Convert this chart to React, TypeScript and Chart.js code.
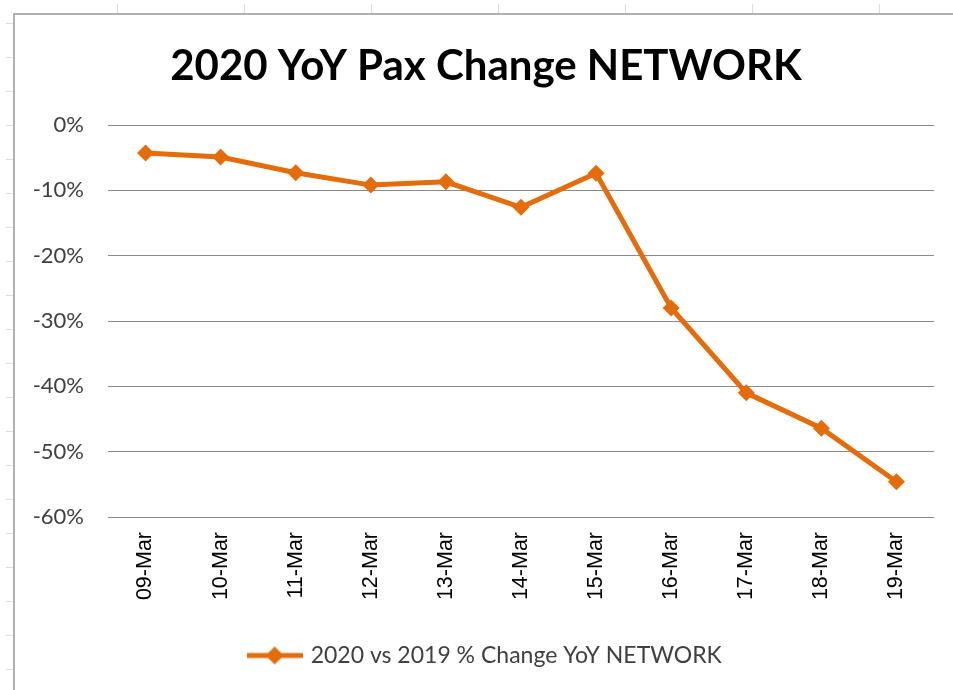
import React, { useEffect, useRef } from "react";
import { Chart, registerables } from "chart.js";

Chart.register(...registerables);

const chartTitle = "2020 YoY Pax Change NETWORK";
const seriesName = "2020 vs 2019 % Change YoY NETWORK";
const categories = [
  "09-Mar",
  "10-Mar",
  "11-Mar",
  "12-Mar",
  "13-Mar",
  "14-Mar",
  "15-Mar",
  "16-Mar",
  "17-Mar",
  "18-Mar",
  "19-Mar",
];
const yoyChange = [-4.3, -4.9, -7.3, -9.2, -8.7, -12.6, -7.4, -28.0, -41.0, -46.4, -54.6];
const yMin = -60;
const yMax = 0;
const yStep = 10;

const ORANGE = "#E46C0A";
const W = 953;
const H = 690;
const PAD_BOTTOM = 13;

export default function App() {
  const ref = useRef<HTMLCanvasElement>(null);

  useEffect(() => {
    const icon = document.createElement("canvas");
    icon.width = 56;
    icon.height = 20;
    const ic = icon.getContext("2d")!;
    ic.strokeStyle = ORANGE;
    ic.lineWidth = 5;
    ic.beginPath();
    ic.moveTo(0, 10);
    ic.lineTo(56, 10);
    ic.stroke();
    ic.fillStyle = ORANGE;
    ic.beginPath();
    ic.moveTo(28, 1);
    ic.lineTo(37, 10);
    ic.lineTo(28, 19);
    ic.lineTo(19, 10);
    ic.closePath();
    ic.fill();

    const chart = new Chart(ref.current!, {
      type: "line",
      data: {
        labels: categories,
        datasets: [
          {
            label: seriesName,
            data: yoyChange,
            borderColor: ORANGE,
            backgroundColor: ORANGE,
            borderWidth: 5,
            pointStyle: "rectRot",
            pointRadius: 8.5,
            pointBorderWidth: 0,
            pointBackgroundColor: ORANGE,
            tension: 0,
          },
        ],
      },
      options: {
        responsive: false,
        animation: false,
        layout: { padding: { left: 19, right: 0, top: 0, bottom: PAD_BOTTOM } },
        plugins: {
          title: {
            display: true,
            text: chartTitle,
            color: "#000",
            font: { family: "Lato", size: 42, weight: "bold" },
            padding: { top: 41, bottom: 33.6 },
          },
          legend: {
            position: "bottom",
            labels: {
              color: "#404040",
              font: { family: "Lato", size: 23 },
              usePointStyle: true,
              pointStyleWidth: 49,
              padding: 24,
              generateLabels: (c: any) => {
                const items = Chart.defaults.plugins.legend.labels.generateLabels(c);
                return items.map((it: any) => ({ ...it, pointStyle: icon }));
              },
            },
          },
          tooltip: { enabled: false },
        },
        scales: {
          x: {
            type: "category",
            offset: true,
            grid: { display: false, drawTicks: false },
            border: { display: false },
            ticks: {
              color: "#000",
              font: { family: "Liberation Sans", size: 21.5 },
              maxRotation: 90,
              minRotation: 90,
              padding: 15,
              autoSkip: false,
            },
            afterFit: (scale: any) => {
              const lh = scale.chart.legend ? scale.chart.legend.height : 71;
              scale.height = H - 517 - lh - PAD_BOTTOM;
            },
          },
          y: {
            min: yMin,
            max: yMax,
            ticks: {
              stepSize: yStep,
              color: "#404040",
              font: { family: "Lato", size: 22 },
              padding: 24,
              callback: (v: any) => `${v}%`,
            },
            grid: { color: "#8a8a8a", lineWidth: 1, drawTicks: false },
            border: { display: false },
            afterFit: (scale: any) => {
              scale.width = 89;
            },
          },
          yRightSpace: {
            type: "linear",
            position: "right",
            display: true,
            grid: { display: false, drawTicks: false },
            border: { display: false },
            ticks: { display: false },
            afterFit: (scale: any) => {
              scale.width = 19;
            },
          },
        },
      },
    });
    return () => chart.destroy();
  }, []);

  const leftMarks = [];
  for (let y = 23; y < H; y += 34) leftMarks.push(y);
  const topMarks = [];
  for (let x = 117; x < W; x += 127) topMarks.push(x);

  return (
    <div style={{ position: "fixed", left: 0, top: 0, width: W, height: H, background: "#fff", overflow: "hidden" }}>
      {leftMarks.map((y) => (
        <div key={"l" + y} style={{ position: "absolute", left: 6, top: y, width: 8, height: 1, background: "#dcdcdc" }} />
      ))}
      {topMarks.map((x) => (
        <div key={"t" + x} style={{ position: "absolute", left: x, top: 4, width: 1, height: 10, background: "#dcdcdc" }} />
      ))}
      <div style={{ position: "absolute", left: 13, top: 13, width: W, height: H, borderLeft: "2px solid #b0b0b0", borderTop: "2px solid #b0b0b0" }} />
      <canvas ref={ref} width={W} height={H} style={{ position: "absolute", left: 0, top: 0, width: W, height: H }} />
    </div>
  );
}
